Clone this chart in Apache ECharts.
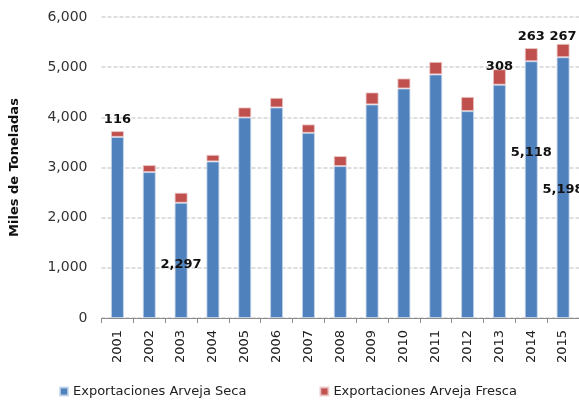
<!DOCTYPE html>
<html lang="es">
<head>
	<meta charset="UTF-8">
	<title>Exportaciones de arveja</title>
	<script src="https://cdn.jsdelivr.net/npm/echarts@6/dist/echarts.min.js"></script>
	<style>
		html, body { margin: 0; padding: 0; background: #fff; }
		#chart { width: 579px; height: 402px; }
	</style>
</head>
<body>
<div id="chart"></div>
<script>
	// datos (miles de toneladas)
	var years = ['2001','2002','2003','2004','2005','2006','2007','2008','2009','2010','2011','2012','2013','2014','2015'];
	var seca = [3610, 2908, 2297, 3121, 3997, 4197, 3691, 3028, 4257, 4575, 4855, 4124, 4650, 5118, 5198];
	var fresca = [116, 140, 200, 132, 200, 192, 168, 200, 239, 200, 251, 284, 308, 263, 267];
	var yTicks = [0, 1000, 2000, 3000, 4000, 5000, 6000];

	// etiquetas que aparecen en el original (indice -> ajuste)
	var secaLabels = { 2: [0, 4], 13: [0, -37], 14: [0, 2] };
	var frescaLabels = { 0: [0, 0], 12: [0, 9], 13: [0, 0], 14: [0, 4] };

	var fmt = function (v) { return v.toLocaleString('en-US'); };
	var labelStyle = { fontFamily: 'DejaVu Sans', fontSize: 13, fontWeight: 'bold', color: '#111' };

	function buildData(values, labels, pos) {
		return values.map(function (v, i) {
			var item = { value: v };
			if (labels[i]) {
				item.label = Object.assign({ show: true, position: pos, offset: labels[i], formatter: fmt(v) }, labelStyle);
			}
			return item;
		});
	}

	var chart = echarts.init(document.getElementById('chart'));
	chart.setOption({
		animation: false,
		grid: { left: 101.5, right: -5.5, top: 17, bottom: 84 },
		legend: {
			top: 385,
			left: 59,
			padding: 0,
			itemWidth: 8,
			itemHeight: 8,
			itemGap: 73,
			icon: 'rect',
			textStyle: { fontFamily: 'DejaVu Sans', fontSize: 13, color: '#222' },
			data: ['Exportaciones Arveja Seca', 'Exportaciones Arveja Fresca']
		},
		xAxis: {
			type: 'category',
			data: years,
			axisLine: { lineStyle: { color: '#8c8c8c', width: 1 } },
			axisTick: { show: true, length: 5, lineStyle: { color: '#8c8c8c' } },
			axisLabel: { rotate: 90, margin: 12, fontFamily: 'DejaVu Sans', fontSize: 13, color: '#222' }
		},
		yAxis: {
			type: 'value',
			min: yTicks[0],
			max: yTicks[yTicks.length - 1],
			interval: 1000,
			name: 'Miles de Toneladas',
			nameLocation: 'middle',
			nameGap: 80,
			nameTextStyle: { fontFamily: 'DejaVu Sans', fontSize: 13, fontWeight: 'bold', color: '#111' },
			axisLine: { show: false },
			axisTick: { show: false },
			axisLabel: { margin: 14, fontFamily: 'DejaVu Sans', fontSize: 14, color: '#333', formatter: fmt },
			splitLine: { lineStyle: { color: '#dedede', width: 2, type: [4, 2] } }
		},
		series: [
			{
				name: 'Exportaciones Arveja Seca',
				type: 'bar',
				stack: 'total',
				barWidth: 13,
				itemStyle: { color: '#4F81BD', borderColor: 'rgba(200,215,235,0.8)', borderWidth: 1 },
				data: buildData(seca, secaLabels, 'inside')
			},
			{
				name: 'Exportaciones Arveja Fresca',
				type: 'bar',
				stack: 'total',
				barWidth: 13,
				itemStyle: { color: '#C0504D', borderColor: 'rgba(235,200,200,0.8)', borderWidth: 1 },
				data: buildData(fresca, frescaLabels, 'top')
			}
		]
	});
</script>
</body>
</html>
